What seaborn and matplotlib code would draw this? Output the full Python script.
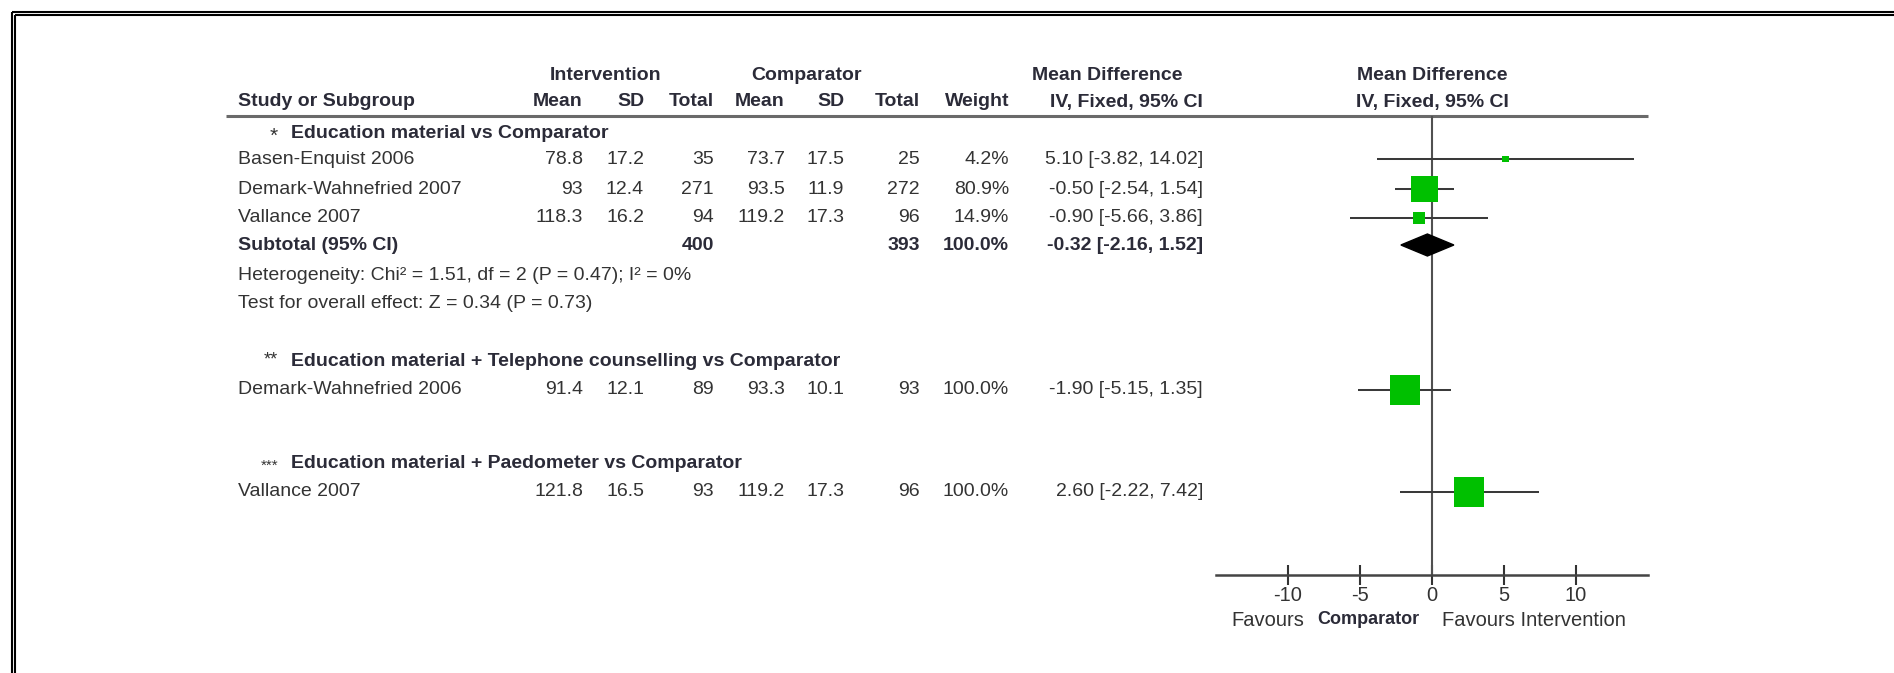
import matplotlib
matplotlib.use("Agg")
import matplotlib.pyplot as plt
import numpy as np
import pandas as pd
import seaborn as sns

# ---------------- data ----------------
subgroups = [
    "Education material vs Comparator",
    "Education material + Telephone counselling vs Comparator",
    "Education material + Paedometer vs Comparator",
]
subgroup_marks = ["*", "**", "***"]

studies = ["Basen-Enquist 2006", "Demark-Wahnefried 2007", "Vallance 2007",
           "Demark-Wahnefried 2006", "Vallance 2007"]
int_mean = [78.8, 93, 118.3, 91.4, 121.8]
int_sd = [17.2, 12.4, 16.2, 12.1, 16.5]
int_n = [35, 271, 94, 89, 93]
comp_mean = [73.7, 93.5, 119.2, 93.3, 119.2]
comp_sd = [17.5, 11.9, 17.3, 10.1, 17.3]
comp_n = [25, 272, 96, 93, 96]
weight = [4.2, 80.9, 14.9, 100.0, 100.0]
md = [5.10, -0.50, -0.90, -1.90, 2.60]
ci_lo = [-3.82, -2.54, -5.66, -5.15, -2.22]
ci_hi = [14.02, 1.54, 3.86, 1.35, 7.42]

# subtotal of the first subgroup
sub_int_n, sub_comp_n, sub_weight = 400, 393, 100.0
sub_md, sub_lo, sub_hi = -0.32, -2.16, 1.52
het_chi2, het_df, het_p, het_i2 = 1.51, 2, 0.47, 0
z_value, z_p = 0.34, 0.73

axis_ticks = [-10, -5, 0, 5, 10]
axis_range = (-15, 15)

# ---------------- layout (pixels) ----------------
W, H = 1894, 673
group_y = [133, 362, 463]
mark_dy = [3, -2, 3]
mark_size = [15, 13, 11]
study_y = [159, 189, 218, 390, 492]
subtotal_y, het_y, test_y = 245, 275, 304
head1_y, head2_y, rule_y = 75, 102, 116
axis_y, favours_y = 575, 620
left_x, mark_x, group_x = 238, 278, 291
col_right = [583, 644, 714, 785, 844, 920, 1009, 1203]
plot_left, plot_right = 1216, 1648
plot_center = (plot_left + plot_right) / 2

sns.set_style("white")
plt.rcParams["font.family"] = ["Liberation Sans", "DejaVu Sans"]

FS = 14
TXT = "#333333"
HDR = "#2b2b38"
GREEN = "#00C000"

fig = plt.figure(figsize=(W / 100, H / 100), dpi=100)
ax = fig.add_axes([0, 0, 1, 1])
ax.set_xlim(0, W)
ax.set_ylim(H, 0)
ax.axis("off")

# double frame along top and left
for off in (12, 15):
    ax.plot([off, W], [off, off], color="black", lw=1.5, solid_capstyle="butt")
    ax.plot([off, off], [off, H], color="black", lw=1.5, solid_capstyle="butt")


def put(x, y, s, ha="left", bold=False, color=TXT, size=FS):
    ax.text(x, y, s, ha=ha, va="center", fontsize=size,
            fontweight="bold" if bold else "normal", color=color)


# column headers
put(606, head1_y, "Intervention", ha="center", bold=True, color=HDR)
put(807, head1_y, "Comparator", ha="center", bold=True, color=HDR)
put(1107, head1_y, "Mean Difference", ha="center", bold=True, color=HDR)
put(plot_center, head1_y, "Mean Difference", ha="center", bold=True, color=HDR)
put(left_x, head2_y, "Study or Subgroup", bold=True, color=HDR)
for x, s in zip(col_right, ["Mean", "SD", "Total", "Mean", "SD", "Total",
                            "Weight", "IV, Fixed, 95% CI"]):
    put(x, head2_y, s, ha="right", bold=True, color=HDR)
put(plot_center, head2_y, "IV, Fixed, 95% CI", ha="center", bold=True, color=HDR)
ax.plot([226, plot_right], [rule_y, rule_y], color="#6a6a6a", lw=2.2,
        solid_capstyle="butt")

# subgroup headings
for gy, mark, dy, ms, name in zip(group_y, subgroup_marks, mark_dy, mark_size,
                                  subgroups):
    put(mark_x, gy + dy, mark, ha="right", color=TXT, size=ms)
    put(group_x, gy, name, bold=True, color=HDR)

# study rows
for i, name in enumerate(studies):
    y = study_y[i]
    put(left_x, y, name)
    vals = [f"{int_mean[i]:g}", f"{int_sd[i]:g}", f"{int_n[i]}",
            f"{comp_mean[i]:g}", f"{comp_sd[i]:g}", f"{comp_n[i]}",
            f"{weight[i]:.1f}%",
            f"{md[i]:.2f} [{ci_lo[i]:.2f}, {ci_hi[i]:.2f}]"]
    for x, s in zip(col_right, vals):
        put(x, y, s, ha="right")

# subtotal and tests
put(left_x, subtotal_y, "Subtotal (95% CI)", bold=True, color=HDR)
put(col_right[2], subtotal_y, f"{sub_int_n}", ha="right", bold=True, color=HDR)
put(col_right[5], subtotal_y, f"{sub_comp_n}", ha="right", bold=True, color=HDR)
put(col_right[6], subtotal_y, f"{sub_weight:.1f}%", ha="right", bold=True, color=HDR)
put(col_right[7], subtotal_y, f"{sub_md:.2f} [{sub_lo:.2f}, {sub_hi:.2f}]",
    ha="right", bold=True, color=HDR)
put(left_x, het_y,
    f"Heterogeneity: Chi\u00b2 = {het_chi2:.2f}, df = {het_df} (P = {het_p:.2f}); "
    f"I\u00b2 = {het_i2}%")
put(left_x, test_y, f"Test for overall effect: Z = {z_value:.2f} (P = {z_p:.2f})")

# ---------------- forest panel ----------------
axf = fig.add_axes([plot_left / W, 0, (plot_right - plot_left) / W, 1])
axf.patch.set_alpha(0)

df = pd.DataFrame({"md": md, "row": study_y, "weight": weight})
axf.hlines(study_y, ci_lo, ci_hi, color="#3a3a3a", lw=1.45, zorder=2)
sns.scatterplot(data=df, x="md", y="row", size="weight", sizes=(0, 466),
                size_norm=(0, 100), marker="s", color=GREEN, linewidth=0,
                legend=False, ax=axf, zorder=3)
axf.fill([sub_lo, sub_md, sub_hi, sub_md],
         [subtotal_y, subtotal_y - 11, subtotal_y, subtotal_y + 11],
         color="black", zorder=3)
axf.vlines(0, rule_y, axis_y, color="#505050", lw=1.5, zorder=1)

axf.set_xlim(*axis_range)
axf.set_ylim(H, 0)
axf.set_xlabel("")
axf.set_ylabel("")
axf.set_yticks([])
for s in ("left", "right", "top"):
    axf.spines[s].set_visible(False)
axf.spines["bottom"].set_position(("data", axis_y))
axf.spines["bottom"].set_color("#444444")
axf.spines["bottom"].set_linewidth(1.8)
axf.set_xticks(axis_ticks)
axf.set_xticklabels([f"{t:g}" for t in axis_ticks])
axf.tick_params(axis="x", bottom=True, direction="inout", length=14, width=1.5,
                colors="#333333", labelsize=FS + 0.5, pad=1)

axf.text(-13.9, favours_y, "Favours", ha="left", va="center", fontsize=FS + 0.5,
         color=TXT)
axf.text(-0.9, favours_y, "Comparator", ha="right", va="center", fontsize=FS - 1,
         fontweight="bold", color=HDR)
axf.text(0.7, favours_y, "Favours Intervention", ha="left", va="center",
         fontsize=FS + 0.5, color=TXT)

fig.savefig("out.png", dpi=100)
